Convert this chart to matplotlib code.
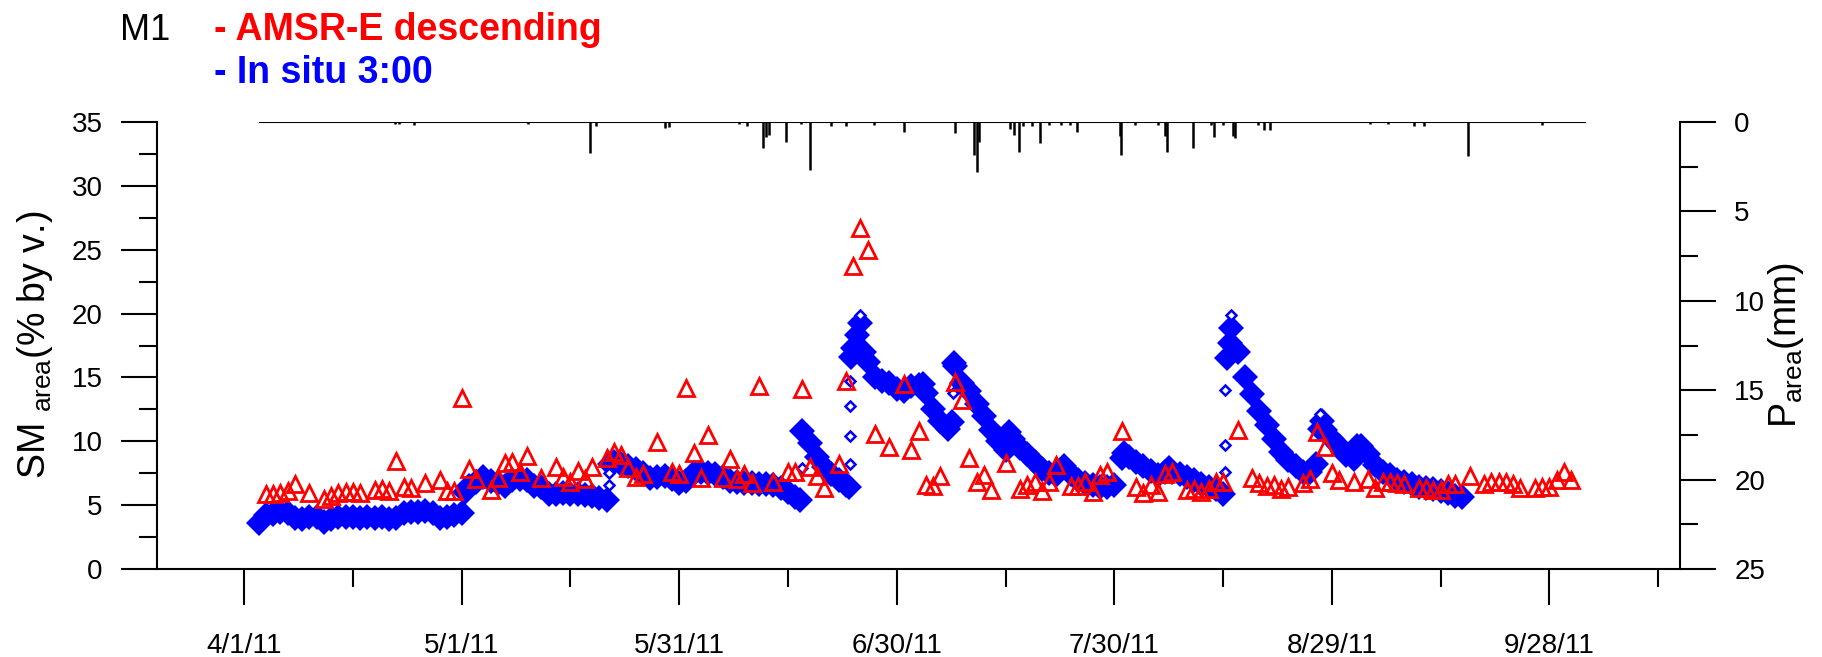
import numpy as np
import matplotlib
matplotlib.use("Agg")
import matplotlib.pyplot as plt
from matplotlib.ticker import FixedLocator, MultipleLocator

plt.rcParams['font.family'] = ['Liberation Sans', 'DejaVu Sans']
plt.rcParams['mathtext.fontset'] = 'custom'
plt.rcParams['mathtext.rm'] = 'Liberation Sans'
plt.rcParams['mathtext.default'] = 'regular'

# x values are days since 4/1/11
x_range = (-12, 198)
tick_days = [0, 30, 60, 90, 120, 150, 180]
tick_labels = ['4/1/11', '5/1/11', '5/31/11', '6/30/11', '7/30/11', '8/29/11', '9/28/11']
minor_days = [15, 45, 75, 105, 135, 165, 195]

# AMSR-E descending (% by v.)
amsr_day = [3, 4, 5, 6, 7, 9, 11, 12, 13, 14, 15, 16, 18, 19, 20, 21, 22, 23, 25, 27,
            28, 29, 30, 31, 32, 34, 35, 36, 37, 38, 39, 41, 43, 44, 45, 46, 47, 48, 50, 51,
            52, 53, 54, 55, 57, 59, 60, 61, 62, 63, 64, 66, 67, 68, 69, 70, 71, 73, 75, 76,
            77, 78, 79, 80, 82, 83, 84, 85, 86, 87, 89, 91, 92, 93, 94, 95, 96, 98, 99, 100,
            101, 102, 103, 105, 107, 108, 109, 110, 111, 112, 114, 115, 116, 117, 118, 119, 121, 123, 124, 125,
            126, 127, 128, 130, 131, 132, 133, 134, 135, 137, 139, 140, 141, 142, 143, 144, 146, 147, 148, 149,
            150, 151, 153, 155, 156, 157, 158, 159, 160, 162, 163, 164, 165, 166, 167, 169, 171, 172, 173, 174,
            175, 176, 178, 179, 180, 181, 182, 183]
amsr_sm = [5.87, 5.85, 5.92, 6.13, 6.63, 5.95, 5.48, 5.72, 5.92, 6.0, 6.05, 5.97, 6.19, 6.29, 6.13, 8.48, 6.45, 6.37, 6.76, 6.94,
           6.13, 6.1, 13.36, 7.83, 7.02, 6.19, 7.1, 8.27, 8.4, 7.57, 8.87, 7.15, 8.01, 7.23, 6.84, 7.67, 7.05, 7.96, 8.67, 9.19,
           8.93, 7.88, 7.23, 7.41, 9.97, 7.62, 7.41, 14.15, 9.06, 7.1, 10.49, 7.15, 8.59, 7.05, 7.44, 6.71, 14.36, 6.84, 7.62, 7.57,
           14.07, 7.96, 7.31, 6.32, 8.2, 14.75, 23.73, 26.68, 24.98, 10.57, 9.58, 14.49, 9.35, 10.83, 6.58, 6.5, 7.28, 14.67, 13.23, 8.72,
           6.79, 7.36, 6.19, 8.27, 6.26, 6.58, 6.79, 6.13, 6.84, 8.14, 6.52, 6.52, 6.79, 6.0, 7.36, 7.62, 10.83, 6.4, 5.93, 6.58,
           6.06, 7.44, 7.62, 6.19, 6.26, 6.0, 6.23, 6.84, 6.79, 10.88, 7.15, 6.71, 6.5, 6.58, 6.26, 6.45, 6.76, 7.02, 10.7, 9.58,
           7.49, 6.97, 6.79, 7.02, 6.32, 6.84, 6.84, 6.76, 6.66, 6.32, 6.32, 6.19, 6.19, 6.66, 6.66, 7.31, 6.66, 6.79, 6.79, 6.79,
           6.66, 6.37, 6.32, 6.4, 6.45, 6.97, 7.62, 6.97]

# In situ 3:00 (% by v.)
insitu_day = [2, 3, 4, 5, 6, 7, 8, 9, 10, 11, 12, 13, 14, 15, 16, 17, 18, 19, 20, 21,
              22, 23, 24, 25, 26, 27, 28, 29, 30, 30.5, 31, 32, 33, 34, 35, 36, 37, 38, 39, 40,
              41, 42, 43, 44, 45, 46, 47, 48, 49, 50, 50.5, 51, 52, 53, 54, 55, 56, 57, 58, 59,
              60, 61, 62, 63, 64, 65, 66, 67, 68, 69, 70, 71, 72, 73, 74, 75, 76, 76.6, 77, 78,
              79, 80, 81, 82, 83, 83.4, 83.7, 84, 84.5, 84.9, 85.5, 86, 87, 88, 89, 90, 91, 92, 93, 93.6,
              94, 95, 96, 97, 97.6, 97.9, 98, 99, 100, 101, 102, 103, 104, 105, 105.5, 106, 107, 108, 109, 110,
              111, 112, 113, 114, 115, 116, 117, 118, 119, 120, 121, 121.3, 122, 123, 124, 125, 126, 127, 127.5, 128,
              129, 130, 131, 132, 133, 134, 135, 135.6, 135.9, 136.1, 137, 138, 139, 140, 141, 142, 143, 144, 145, 146, 147,
              147.8, 148.3, 148.6, 149, 150, 151, 152, 153, 153.5, 154, 155, 156, 157, 158, 159, 160, 161, 162, 163, 164,
              165, 166, 167, 168]
insitu_sm = [3.6, 4.2, 4.33, 4.44, 4.36, 3.97, 3.92, 4.05, 4.1, 3.7, 3.9, 4.1, 4.1, 4.1, 3.97, 4.1, 3.97, 4.1, 3.95, 4.0,
             4.36, 4.49, 4.49, 4.55, 4.36, 3.97, 4.1, 4.23, 4.36, 6.0, 6.53, 6.79, 7.18, 6.92, 6.7, 6.53, 6.97, 7.05, 7.0, 6.5,
             6.45, 5.9, 5.85, 5.93, 5.87, 5.87, 5.76, 5.68, 5.55, 5.4, 8.2, 8.4, 8.25, 8.05, 7.85, 7.55, 7.15, 7.2, 7.3, 7.05,
             6.75, 6.9, 7.5, 7.6, 7.5, 7.44, 7.2, 6.9, 6.8, 6.75, 6.71, 6.65, 6.65, 6.6, 6.35, 6.05, 5.6, 5.4, 10.8, 9.85,
             8.8, 8.0, 7.45, 6.95, 6.6, 6.45, 16.6, 17.3, 18.3, 19.3, 17.0, 16.2, 15.0, 14.7, 14.6, 14.1, 13.9, 14.3, 14.4, 14.5,
             13.8, 12.5, 11.6, 11.0, 11.5, 16.1, 15.9, 14.6, 13.9, 12.9, 12.0, 10.9, 10.0, 9.35, 10.7, 10.2, 9.45, 9.0, 8.4, 7.85,
             7.5, 7.35, 8.1, 7.4, 6.95, 6.7, 6.55, 6.4, 6.42, 6.6, 8.7, 9.1, 8.75, 8.35, 8.05, 7.65, 7.35, 7.6, 7.88, 7.6,
             7.4, 7.2, 6.98, 6.66, 6.45, 6.28, 5.9, 16.5, 17.7, 18.9, 17.0, 15.0, 13.7, 12.4, 11.3, 10.2, 9.2, 8.55, 8.1, 7.6, 7.6,
             8.2, 11.0, 11.6, 10.85, 10.2, 9.6, 8.9, 8.6, 9.66, 9.6, 9.0, 8.15, 7.6, 7.35, 7.0, 6.8, 6.66, 6.45, 6.32, 6.28,
             6.1, 5.95, 5.75, 5.6]
# single in situ readings during fast wetting
insitu_rise_day = [50.3, 50.3, 77.0, 83.6, 83.6, 83.6, 83.6, 84.9, 97.7, 135.3, 135.3, 135.3, 136.1, 148.3]
insitu_rise_sm = [6.6, 7.5, 7.9, 8.2, 10.4, 12.8, 14.7, 19.9, 13.8, 7.6, 9.7, 14.0, 19.9, 12.1]

# precipitation (mm), hanging from the top axis
precip_period = (2, 185)
precip_day = [20.8, 21.3, 23.5, 39.2, 47.7, 48.5, 58.0, 58.6, 68.2, 69.4, 71.5, 72.0, 72.4, 74.7, 76.8, 78.1,
              80.9, 83.0, 86.8, 91.0, 98.0, 100.6, 101.0, 101.3, 105.6, 106.1, 106.8, 107.4, 108.7, 109.8,
              111.0, 112.6, 113.9, 114.8, 120.8, 120.9, 122.8, 126.0, 127.0, 127.3, 130.8, 133.4, 133.8,
              135.0, 136.3, 136.6, 139.8, 140.7, 141.5, 155.3, 157.8, 161.3, 162.7, 168.8, 179.0]
precip_mm = [0.13, 0.1, 0.15, 0.1, 1.75, 0.2, 0.35, 0.3, 0.1, 0.25, 1.47, 0.82, 0.7, 1.1, 0.1, 2.7,
             0.25, 0.2, 0.15, 0.54, 0.6, 1.85, 2.8, 1.1, 0.4, 0.7, 1.7, 0.2, 0.2, 1.2,
             0.15, 0.15, 0.15, 0.55, 0.8, 1.85, 0.15, 0.15, 0.8, 1.7, 1.47, 0.15, 0.82,
             0.15, 0.8, 0.9, 0.15, 0.45, 0.45, 0.1, 0.1, 0.25, 0.25, 1.9, 0.15]

W, H = 1822, 657
fig = plt.figure(figsize=(W / 100, H / 100), dpi=100)
ax = fig.add_axes([157 / W, 1 - 569 / H, (1680 - 157) / W, (569 - 122) / H])

# in situ band: big diamonds so the daily points merge like the hourly cloud
ax.plot(insitu_day, insitu_sm, linestyle='none', marker='D', ms=13.5, color='#0000ff',
        mew=0, zorder=2)
ax.plot(insitu_rise_day, insitu_rise_sm, linestyle='none', marker='D', ms=5.5,
        mfc='white', mec='#0000ff', mew=1.8, zorder=2)
ax.plot(amsr_day, amsr_sm, linestyle='none', marker='^', ms=11.5, mfc='none',
        mec='#ff0000', mew=2.0, zorder=3)

ax.set_xlim(*x_range)
ax.set_ylim(0, 35)
ax.xaxis.set_major_locator(FixedLocator(tick_days))
ax.xaxis.set_minor_locator(FixedLocator(minor_days))
ax.set_xticklabels(tick_labels)
ax.yaxis.set_major_locator(MultipleLocator(5))
ax.yaxis.set_minor_locator(MultipleLocator(2.5))

for s in ['top', 'right']:
    ax.spines[s].set_visible(False)
for s in ['left', 'bottom']:
    ax.spines[s].set_linewidth(1.5)

ax.tick_params(axis='both', which='major', direction='out', length=26, width=1.5,
               labelsize=20)
ax.tick_params(axis='both', which='minor', direction='out', length=13, width=1.5)
ax.tick_params(axis='y', which='major', pad=13)
ax.tick_params(axis='x', which='major', pad=20)

ax2 = ax.twinx()
ax2.hlines(0, *precip_period, color='black', lw=1.5)
ax2.vlines(precip_day, 0, precip_mm, color='black', lw=1.8)
ax2.set_ylim(25, 0)
ax2.yaxis.set_major_locator(MultipleLocator(5))
ax2.yaxis.set_minor_locator(MultipleLocator(2.5))
for s in ['top', 'left', 'bottom']:
    ax2.spines[s].set_visible(False)
ax2.spines['right'].set_linewidth(1.5)
ax2.tick_params(axis='y', which='major', direction='out', length=26, width=1.5,
                labelsize=20, pad=13)
ax2.tick_params(axis='y', which='minor', direction='out', length=13, width=1.5)

fig.text(35 / W, 1 - 345 / H, 'SM $_{area}$(% by v.)', rotation=90, fontsize=27,
         ha='center', va='center')
fig.text(1786 / W, 1 - 345 / H, 'P$_{area}$(mm)', rotation=90, fontsize=27,
         ha='center', va='center')

fig.text(120 / W, 1 - 40 / H, 'M1', fontsize=26, ha='left', va='baseline')
fig.text(214 / W, 1 - 40 / H, '- AMSR-E descending', fontsize=27, fontweight='bold',
         color='#ff0000', ha='left', va='baseline')
fig.text(214 / W, 1 - 83 / H, '- In situ 3:00', fontsize=27, fontweight='bold',
         color='#0000ff', ha='left', va='baseline')

fig.savefig('out.png', dpi=100)
